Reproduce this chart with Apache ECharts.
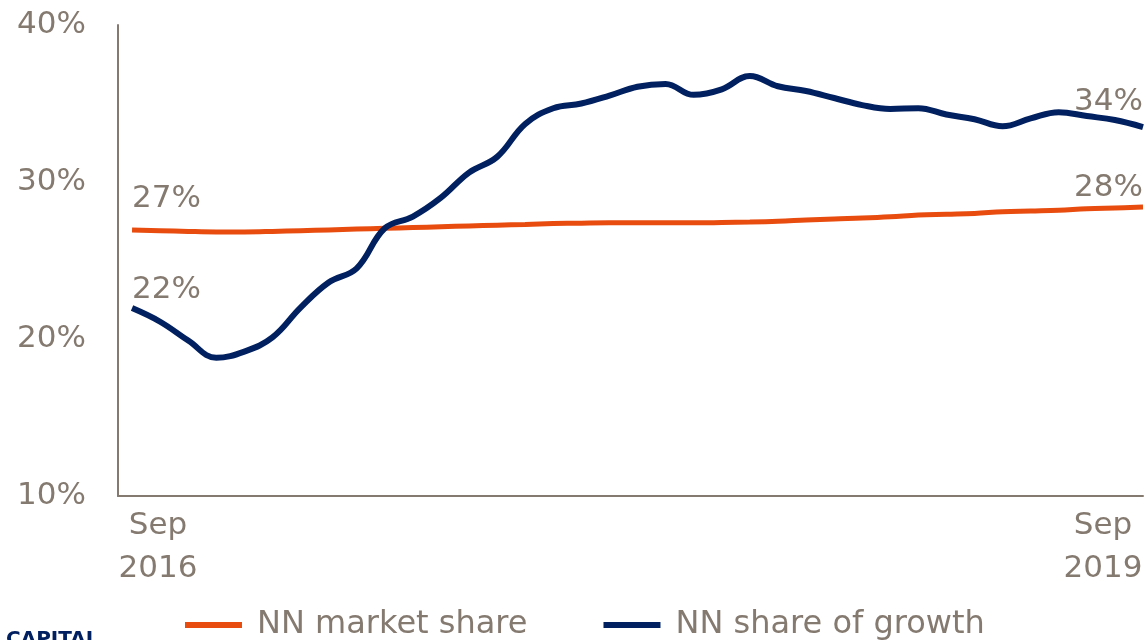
<!DOCTYPE html>
<html>
<head>
<meta charset="utf-8">
<script src="https://cdn.jsdelivr.net/npm/echarts@6/dist/echarts.min.js"></script>
<style>
  html, body { margin: 0; padding: 0; background: #fff; }
  #chart { width: 1146px; height: 640px; }
</style>
</head>
<body>
<div id="chart"></div>
<script>
// monthly, Sep 2016 .. Sep 2019
const months = [];
for (let y = 2016, m = 8; months.length < 37; m++) {
  if (m > 11) { m = 0; y++; }
  months.push(['Jan','Feb','Mar','Apr','May','Jun','Jul','Aug','Sep','Oct','Nov','Dec'][m] + ' ' + y);
}

const marketShare = [
  26.95, 26.9, 26.85, 26.82, 26.82, 26.85, 26.9, 26.95, 27.0, 27.05,
  27.1, 27.15, 27.2, 27.25, 27.3, 27.35, 27.38, 27.4, 27.4, 27.4,
  27.4, 27.42, 27.45, 27.5, 27.58, 27.65, 27.7, 27.78, 27.9, 27.95,
  28.0, 28.1, 28.15, 28.2, 28.3, 28.35, 28.4
];
const shareOfGrowth = [
  21.97, 21.1, 19.9, 18.8, 19.2, 20.1, 22.0, 23.6, 24.5, 27.05,
  27.8, 29.0, 30.6, 31.6, 33.7, 34.7, 35.0, 35.5, 36.07, 36.25,
  35.55, 35.9, 36.75, 36.1, 35.8, 35.35, 34.9, 34.65, 34.7, 34.3,
  34.0, 33.55, 34.05, 34.45, 34.2, 33.95, 33.5
];
const yTicks = [10, 20, 30, 40];
const endLabels = { market: ['27%', '28%'], growth: ['22%', '34%'] };
const xLabels = { first: ['Sep', '2016'], last: ['Sep', '2019'] };

const grey = '#857a70';
const orange = '#e84c0e';
const navy = '#002060';
const font = 'DejaVu Sans, Verdana, sans-serif';

function toPoints(values, labels, firstDist, lastDist) {
  return values.map((v, i) => {
    const item = { value: [i, v], name: months[i] };
    if (i === 0) {
      item.label = { show: true, position: 'top', align: 'left', distance: firstDist, formatter: labels[0] };
    } else if (i === values.length - 1) {
      item.label = { show: true, position: 'top', align: 'right', distance: lastDist, formatter: labels[1] };
    }
    return item;
  });
}

const labelStyle = { color: grey, fontSize: 31, fontFamily: font };

const chart = echarts.init(document.getElementById('chart'));
chart.setOption({
  animation: false,
  grid: { left: 118, right: 1, top: 25, bottom: 144, containLabel: false },
  legend: {
    left: 180,
    top: 604,
    icon: 'rect',
    itemWidth: 57,
    itemHeight: 6,
    itemGap: 76,
    textStyle: { color: grey, fontSize: 32, fontFamily: font, padding: [0, 0, 0, 10] },
    data: ['NN market share', 'NN share of growth']
  },
  xAxis: {
    type: 'value',
    min: -0.5,
    max: 36,
    axisLine: { show: true, onZero: false, lineStyle: { color: grey, width: 2 } },
    axisTick: { show: false },
    splitLine: { show: false },
    axisLabel: {
      customValues: [-0.5, 36],
      alignMinLabel: 'left',
      alignMaxLabel: 'right',
      margin: 8,
      formatter: v => {
        const t = v < 0 ? xLabels.first : xLabels.last;
        return '{c|' + t[0] + '}\n{c|' + t[1] + '}';
      },
      rich: { c: { width: 80, align: 'center', color: grey, fontSize: 31, fontFamily: font, lineHeight: 43 } }
    }
  },
  yAxis: {
    type: 'value',
    min: yTicks[0],
    max: yTicks[yTicks.length - 1],
    interval: 10,
    axisLine: { show: true, onZero: false, lineStyle: { color: grey, width: 2 } },
    axisTick: { show: false },
    splitLine: { show: false },
    axisLabel: { formatter: '{value}%', margin: 32, ...labelStyle }
  },
  graphic: [{
    type: 'text', left: 6, top: 630,
    style: { text: 'CAPITAL', fill: navy, font: 'bold 20px ' + font }
  }],
  series: [
    {
      name: 'NN market share',
      type: 'line',
      smooth: 0.4,
      symbol: 'circle',
      symbolSize: 0,
      showSymbol: true,
      clip: false,
      lineStyle: { color: orange, width: 5 },
      itemStyle: { color: orange },
      label: labelStyle,
      data: toPoints(marketShare, endLabels.market, 15, 4)
    },
    {
      name: 'NN share of growth',
      type: 'line',
      smooth: 0.4,
      symbol: 'circle',
      symbolSize: 0,
      showSymbol: true,
      clip: false,
      lineStyle: { color: navy, width: 6 },
      itemStyle: { color: navy },
      label: labelStyle,
      data: toPoints(shareOfGrowth, endLabels.growth, 3, 10)
    }
  ]
});
</script>
</body>
</html>
